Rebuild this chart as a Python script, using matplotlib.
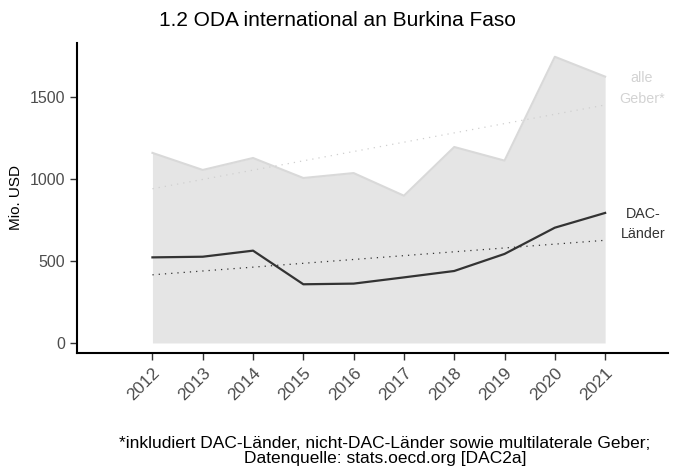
import numpy as np
import matplotlib
matplotlib.use('Agg')
import matplotlib.pyplot as plt
from matplotlib.transforms import ScaledTranslation

plt.rcParams['font.family'] = ['Liberation Sans', 'DejaVu Sans']

# Data (Mio. USD)
years = np.arange(2012, 2022)
alle_geber = [1159, 1055, 1128, 1006, 1036, 898, 1195, 1112, 1745, 1624]
dac_laender = [522, 526, 563, 358, 362, 400, 439, 543, 703, 793]
y_ticks = [0, 500, 1000, 1500]

fig = plt.figure(figsize=(6.75, 4.72), dpi=100)
ax = fig.add_axes([77 / 675, 1 - 353 / 472, 591 / 675, 310 / 472])

# Area + line for all donors
ax.fill_between(years, 0, alle_geber, color='#e5e5e5', lw=0)
ax.plot(years, alle_geber, color='#d9d9d9', lw=1.5)
ax.plot(years, dac_laender, color='#333333', lw=1.6)

# Linear trends
for vals, col in [(alle_geber, '#cfcfcf'), (dac_laender, '#333333')]:
    k, d = np.polyfit(years, vals, 1)
    ax.plot(years, k * years + d, color=col, lw=0.9, linestyle=(0, (1, 4)))

ax.text(2021.73, 1550, 'alle\nGeber*', color='#d3d3d3', fontsize=10.3,
        ha='center', va='center', linespacing=1.6)
ax.text(2021.75, 725, 'DAC-\nLänder', color='#333333', fontsize=10.3,
        ha='center', va='center', linespacing=1.6)

ax.set_xlim(2010.5, 2022.25)
ax.set_ylim(-61, 1829)
ax.set_xticks(years)
ax.set_xticklabels([str(y) for y in years], rotation=45, ha='right',
                   va='top', rotation_mode='anchor', fontsize=12.5)
off = ScaledTranslation(3 / 100, 0, fig.dpi_scale_trans)
for lab in ax.get_xticklabels():
    lab.set_transform(lab.get_transform() + off)
ax.set_yticks(y_ticks)
ax.tick_params(colors='#333333', labelcolor='#4d4d4d', length=5, width=1)
ax.tick_params(axis='y', labelsize=11.5)
ax.set_ylabel('Mio. USD', fontsize=11, color='black', labelpad=5)
for s in ['top', 'right']:
    ax.spines[s].set_visible(False)
for s in ['left', 'bottom']:
    ax.spines[s].set_linewidth(1.5)

fig.text(0.5, 1 - 21 / 472, '1.2 ODA international an Burkina Faso',
         ha='center', va='center', fontsize=15)
fig.text(385 / 675, 1 - 451 / 472,
         '*inkludiert DAC-Länder, nicht-DAC-Länder sowie multilaterale Geber;\nDatenquelle: stats.oecd.org [DAC2a]',
         ha='center', va='center', fontsize=12.5, linespacing=1.05)

fig.savefig('out.png', dpi=100)
